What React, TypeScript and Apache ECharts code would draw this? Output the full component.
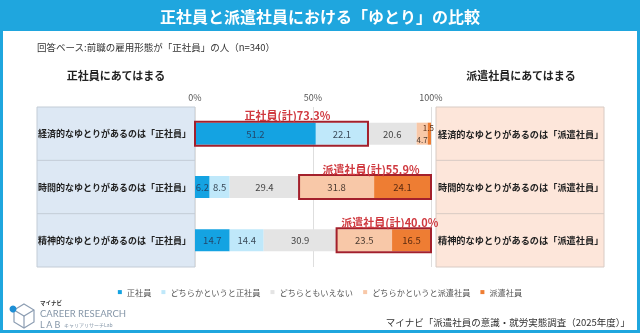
import React, { useEffect, useRef } from "react";
import * as echarts from "echarts";

const FONT = "'Noto Sans CJK JP', 'Noto Sans', sans-serif";

const categoriesLeft = [
  "経済的なゆとりがあるのは「正社員」",
  "時間的なゆとりがあるのは「正社員」",
  "精神的なゆとりがあるのは「正社員」",
];
const categoriesRight = [
  "経済的なゆとりがあるのは「派遣社員」",
  "時間的なゆとりがあるのは「派遣社員」",
  "精神的なゆとりがあるのは「派遣社員」",
];
const seriesNames = [
  "正社員",
  "どちらかというと正社員",
  "どちらともいえない",
  "どちらかというと派遣社員",
  "派遣社員",
];
const seiShain = [51.2, 6.2, 14.7];
const dochiraSei = [22.1, 8.5, 14.4];
const neutral = [20.6, 29.4, 30.9];
const dochiraHaken = [4.7, 31.8, 23.5];
const haken = [1.5, 24.1, 16.5];
const highlightSide = ["正社員", "派遣社員", "派遣社員"];
const xTicks = [0, 50, 100];

const seriesValues = [seiShain, dochiraSei, neutral, dochiraHaken, haken];
const seriesColors = ["#14a3e2", "#bfe8fa", "#e4e4e4", "#f8c8a8", "#ee7d33"];
const labelColors = ["#23476b", "#3a4a58", "#444", "#4a3a30", "#5a2a10"];

// per-item label nudges for tiny segments (series index, row index)
const labelNudge: Record<string, any> = {
  "3-0": { offset: [0, 6], fontSize: 8 },
  "4-0": { offset: [-1, -6], fontSize: 8 },
};

export default function App() {
  const ref = useRef<HTMLDivElement>(null);
  useEffect(() => {
    if (!ref.current) return;
    const chart = echarts.init(ref.current, null, { renderer: "svg" });

    const highlights = categoriesLeft.map((_, i) => {
      if (highlightSide[i] === "正社員") {
        const total = seiShain[i] + dochiraSei[i];
        return { row: i, start: 0, end: total, text: `正社員(計)${total.toFixed(1)}%` };
      }
      const start = seiShain[i] + dochiraSei[i] + neutral[i];
      const total = dochiraHaken[i] + haken[i];
      return { row: i, start, end: start + total, text: `派遣社員(計)${total.toFixed(1)}%` };
    });

    const barSeries = seriesNames.map((name, si) => ({
      name,
      type: "bar",
      stack: "total",
      barWidth: 22,
      yAxisIndex: 0,
      itemStyle: { color: seriesColors[si] },
      label: {
        show: true,
        position: "inside",
        fontSize: 9.5,
        fontFamily: FONT,
        color: labelColors[si],
        formatter: (p: any) => Number(p.value).toFixed(1),
      },
      data: seriesValues[si].map((v, ri) => {
        const n = labelNudge[`${si}-${ri}`];
        return n ? { value: v, label: n } : v;
      }),
    }));

    const W = 640;
    const boxTop = 107;
    const boxH = 160;
    const rowH = boxH / 3;

    const graphics: any[] = [
      { type: "rect", shape: { x: 0, y: 0, width: W, height: 31 }, style: { fill: "#1fa6de" }, z: 1 },
      {
        type: "text",
        x: 320,
        y: 16,
        style: { text: "正社員と派遣社員における「ゆとり」の比較", fill: "#fff", fontSize: 16, fontWeight: "bold", fontFamily: FONT, align: "center", verticalAlign: "middle" },
        z: 2,
      },
      { type: "rect", shape: { x: 1.5, y: 1.5, width: W - 3, height: 330 }, style: { fill: "none", stroke: "#1fa6de", lineWidth: 3 }, z: 3 },
      {
        type: "text",
        x: 37,
        y: 47,
        style: { text: "回答ベース:前職の雇用形態が「正社員」の人（n=340）", fill: "#333", fontSize: 9.5, fontFamily: FONT, verticalAlign: "middle" },
      },
      {
        type: "text",
        x: 116,
        y: 75,
        style: { text: "正社員にあてはまる", fill: "#222", fontSize: 11, fontWeight: "bold", fontFamily: FONT, align: "center", verticalAlign: "middle" },
      },
      {
        type: "text",
        x: 521,
        y: 75,
        style: { text: "派遣社員にあてはまる", fill: "#222", fontSize: 11, fontWeight: "bold", fontFamily: FONT, align: "center", verticalAlign: "middle" },
      },
      { type: "rect", shape: { x: 37, y: boxTop, width: 158, height: boxH }, style: { fill: "#dde8f4", stroke: "#c3ccd6", lineWidth: 1 }, z: -1 },
      { type: "line", shape: { x1: 37, y1: boxTop + rowH, x2: 195, y2: boxTop + rowH }, style: { stroke: "#c3ccd6", lineWidth: 1 } },
      { type: "line", shape: { x1: 37, y1: boxTop + 2 * rowH, x2: 195, y2: boxTop + 2 * rowH }, style: { stroke: "#c3ccd6", lineWidth: 1 } },
      { type: "rect", shape: { x: 436, y: boxTop, width: 168, height: boxH }, style: { fill: "#fde6da", stroke: "#d8cbc4", lineWidth: 1 }, z: -1 },
      { type: "line", shape: { x1: 436, y1: boxTop + rowH, x2: 604, y2: boxTop + rowH }, style: { stroke: "#d8cbc4", lineWidth: 1 } },
      { type: "line", shape: { x1: 436, y1: boxTop + 2 * rowH, x2: 604, y2: boxTop + 2 * rowH }, style: { stroke: "#d8cbc4", lineWidth: 1 } },
      // logo
      { type: "polygon", shape: { points: [[24, 304], [34, 310], [34, 322], [24, 328], [14, 322], [14, 310]] }, style: { fill: "none", stroke: "#8c9db2", lineWidth: 1.2 } },
      { type: "polyline", shape: { points: [[14, 310], [24, 316], [34, 310]] }, style: { fill: "none", stroke: "#8c9db2", lineWidth: 1.2 } },
      { type: "line", shape: { x1: 24, y1: 316, x2: 24, y2: 328 }, style: { stroke: "#8c9db2", lineWidth: 1.2 } },
      { type: "circle", shape: { cx: 13, cy: 309, r: 3.5 }, style: { fill: "#1e8fd5" } },
      { type: "text", x: 40, y: 303, style: { text: "マイナビ", fill: "#333", fontSize: 5.5, fontWeight: "bold", fontFamily: FONT, verticalAlign: "middle" } },
      { type: "text", x: 40, y: 313, style: { text: "CAREER RESEARCH", fill: "#8596a8", fontSize: 9.5, fontFamily: "Lato, sans-serif", verticalAlign: "middle" } },
      { type: "text", x: 40, y: 324, style: { text: "L A B", fill: "#8596a8", fontSize: 9, fontFamily: "Lato, sans-serif", verticalAlign: "middle" } },
      { type: "text", x: 64, y: 324.5, style: { text: "キャリアリサーチLab", fill: "#8596a8", fontSize: 5, fontFamily: FONT, verticalAlign: "middle" } },
      {
        type: "text",
        x: 630,
        y: 322,
        style: { text: "マイナビ「派遣社員の意識・就労実態調査（2025年度）」", fill: "#333", fontSize: 9.5, fontFamily: FONT, align: "right", verticalAlign: "middle" },
      },
    ];

    chart.setOption({
      animation: false,
      textStyle: { fontFamily: FONT },
      grid: { left: 195, right: 209, top: 107, bottom: 66, containLabel: false },
      legend: {
        data: seriesNames,
        top: 283,
        left: "center",
        icon: "rect",
        itemWidth: 4,
        itemHeight: 4,
        itemGap: 10,
        textStyle: { fontSize: 8.2, color: "#555", fontFamily: FONT },
      },
      xAxis: {
        type: "value",
        position: "top",
        min: xTicks[0],
        max: xTicks[xTicks.length - 1],
        interval: xTicks[1] - xTicks[0],
        axisLine: { show: false },
        axisTick: { show: false },
        splitLine: { show: true, lineStyle: { color: "#dedede", width: 1 } },
        axisLabel: { formatter: "{value}%", fontSize: 9, color: "#555", margin: 5, fontFamily: FONT },
      },
      yAxis: [
        {
          type: "category",
          data: categoriesLeft,
          inverse: true,
          axisLine: { show: false },
          axisTick: { show: false },
          axisLabel: { align: "left", margin: 157, fontSize: 9, fontWeight: "bold", color: "#222", fontFamily: FONT },
        },
        {
          type: "category",
          data: categoriesRight,
          inverse: true,
          position: "right",
          axisLine: { show: false },
          axisTick: { show: false },
          axisLabel: { align: "left", margin: 7, fontSize: 9.2, fontWeight: "bold", color: "#222", fontFamily: FONT },
        },
      ],
      series: [
        ...barSeries,
        {
          type: "custom",
          name: "highlight",
          yAxisIndex: 0,
          z: 5,
          clip: false,
          encode: { x: [1, 2], y: 0 },
          data: highlights.map((h) => [h.row, h.start, h.end]),
          renderItem: (params: any, api: any) => {
            const row = api.value(0);
            const a = api.coord([api.value(1), row]);
            const b = api.coord([api.value(2), row]);
            const h = 24;
            const text = highlights[params.dataIndex].text;
            return {
              type: "group",
              children: [
                {
                  type: "rect",
                  shape: { x: a[0], y: a[1] - h / 2, width: b[0] - a[0], height: h },
                  style: { fill: "none", stroke: "#a3202c", lineWidth: 2 },
                },
                {
                  type: "text",
                  style: {
                    text,
                    x: (a[0] + b[0]) / 2 + 6,
                    y: a[1] - h / 2 - 1,
                    align: "center",
                    verticalAlign: "bottom",
                    fill: "#d03a40",
                    fontSize: 11,
                    fontWeight: "bold",
                    fontFamily: FONT,
                  },
                },
              ],
            };
          },
        },
      ],
      graphic: graphics,
    });
    return () => chart.dispose();
  }, []);
  return <div ref={ref} style={{ position: "fixed", left: 0, top: 0, width: 640, height: 333 }} />;
}
